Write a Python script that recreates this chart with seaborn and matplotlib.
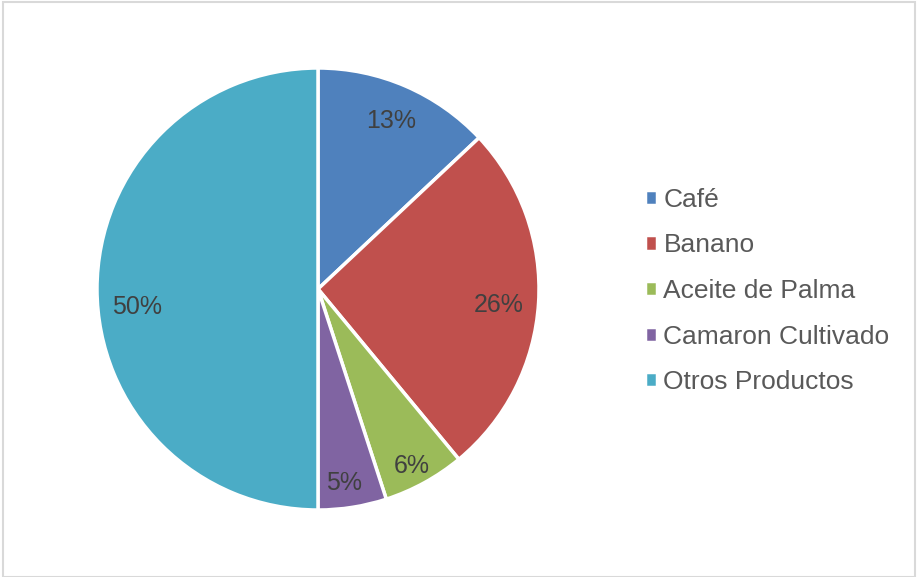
import matplotlib.pyplot as plt
import seaborn as sns
import numpy as np
from matplotlib.patches import Rectangle

# data
productos = ['Café', 'Banano', 'Aceite de Palma', 'Camaron Cultivado', 'Otros Productos']
porcentajes = [13, 26, 6, 5, 50]
colores = ['#4F81BD', '#C0504D', '#9BBB59', '#8064A2', '#4BACC6']

# label placement (radius as fraction of pie radius, vertical nudge)
radio_etiquetas = [0.83, 0.82, 0.88, 0.88, 0.82]
ajuste_y = [0.0, -0.02, -0.03, -0.01, -0.08]

sns.set_theme(style='white')
plt.rcParams['font.family'] = ['Liberation Sans', 'DejaVu Sans']

fig = plt.figure(figsize=(9.18, 5.77), dpi=100)
# pie axis: centre (318, 289) px, radius 221 px
r = 221
ax = fig.add_axes([(318 - r) / 918, (577 - 289 - r) / 577, 2 * r / 918, 2 * r / 577])

wedges, texts, autotexts = ax.pie(
    porcentajes, colors=colores, startangle=90, counterclock=False,
    autopct='%.0f%%', pctdistance=0.83,
    wedgeprops=dict(edgecolor='white', linewidth=2.5),
    textprops=dict(fontsize=18, color='#404040'))

# move the percentage labels a little, like Excel's best fit
for w, t, rr, dy in zip(wedges, autotexts, radio_etiquetas, ajuste_y):
    ang = np.deg2rad((w.theta1 + w.theta2) / 2)
    t.set_position((rr * np.cos(ang) - (0.02 if rr == 0.88 and dy == -0.01 else 0),
                    rr * np.sin(ang) + dy))

ax.set_xlim(-1, 1)
ax.set_ylim(-1, 1)
ax.set_aspect('auto')

fig.legend(wedges, productos, loc='center left', bbox_to_anchor=(645 / 918, 1 - 291 / 577),
           frameon=False, fontsize=19, labelcolor='#595959',
           handlelength=0.45, handleheight=0.5, handletextpad=0.25,
           labelspacing=0.82, borderpad=0, borderaxespad=0)

# light grey chart border
fig.patches.append(Rectangle((0.003, 0.0), 0.994, 0.997, transform=fig.transFigure,
                             fill=False, edgecolor='#D9D9D9', linewidth=1.5))

fig.savefig('out.png', dpi=100)
